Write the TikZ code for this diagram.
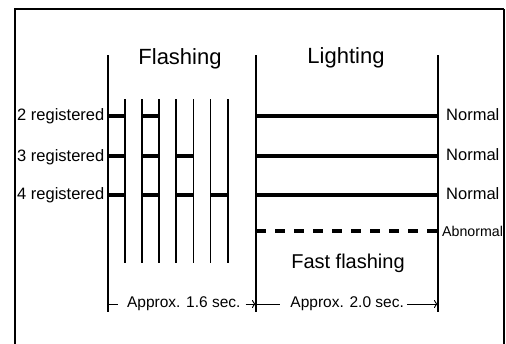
\documentclass[tikz,border=0pt]{standalone}
\usepackage{fontspec}
\setmainfont{Liberation Sans}
\usetikzlibrary{arrows.meta}
\begin{document}
\begin{tikzpicture}[x=1pt,y=-1pt,
  frame/.style={line width=2pt},
  axis/.style={line width=1.2pt},
  tick/.style={line width=1.2pt},
  bar/.style={line width=3.6pt},
  dashbar/.style={line width=3.6pt,dash pattern=on 10pt off 9pt},
  dim/.style={line width=0.9pt},
  dimarrow/.style={line width=0.9pt,-{To[length=4pt,width=8pt]}},
  lbl/.style={inner sep=0pt,font=\fontsize{16.5}{18}\selectfont},
  ttl/.style={inner sep=0pt,font=\fontsize{22}{24}\selectfont},
  sub/.style={inner sep=0pt,font=\fontsize{20}{22}\selectfont},
  small/.style={inner sep=0pt,font=\fontsize{14.2}{16}\selectfont},
  apx/.style={inner sep=0pt,font=\fontsize{15.5}{17}\selectfont}]
\useasboundingbox (0,0) rectangle (506,343);
% frame
\coordinate (fbl) at (15,344);
\coordinate (ftl) at (15,9);
\coordinate (ftr) at (504,9);
\coordinate (fbr) at (504,344);
\draw[frame] (fbl) -- (ftl) -- (ftr);
\draw[line width=1.4pt] (ftr) -- (fbr);
% main verticals
\foreach \n/\x in {a/108,b/256,c/438}{
  \coordinate (\n top) at (\x,55);
  \coordinate (\n bot) at (\x,312);
  \draw[axis] (\n top) -- (\n bot);
}
% small verticals
\foreach \i/\x in {1/125,2/142,3/159,4/176,5/193.7,6/210.7,7/228}{
  \coordinate (v\i t) at (\x,99);
  \coordinate (v\i b) at (\x,263);
  \draw[tick] (v\i t) -- (v\i b);
}
% row coordinates
\foreach \r/\y in {2/116,3/155.7,4/195}{
  \coordinate (r\r a) at (108,\y);
  \foreach \i/\x in {1/125,2/142,3/159,4/176,5/193.7,6/210.7,7/228}{
    \coordinate (r\r v\i) at (\x,\y);
  }
  \coordinate (r\r b) at (256,\y);
  \coordinate (r\r c) at (438,\y);
  \draw[bar] (r\r b) -- (r\r c);
}
% flashing bars
\draw[bar] (r2a) -- (r2v1) (r2v2) -- (r2v3);
\draw[bar] (r3a) -- (r3v1) (r3v2) -- (r3v3) (r3v4) -- (r3v5);
\draw[bar] (r4a) -- (r4v1) (r4v2) -- (r4v3) (r4v4) -- (r4v5) (r4v6) -- (r4v7);
% abnormal dashed
\coordinate (abl) at (256,231);
\coordinate (abr) at (438,231);
\draw[dashbar] (abl) -- (abr);
% titles
\node[ttl,anchor=base] (tflash) at (180,64) {Flashing};
\node[ttl,anchor=base] (tlight) at (346,63.3) {Lighting};
% left labels
\node[lbl,anchor=base east] (l2) at (104.5,120.7) {2 registered};
\node[lbl,anchor=base east] (l3) at (104.5,161.3) {3 registered};
\node[lbl,anchor=base east] (l4) at (104.5,199.7) {4 registered};
% right labels
\node[lbl,anchor=base west] (n2) at (446,120.3) {Normal};
\node[lbl,anchor=base west] (n3) at (446,160.7) {Normal};
\node[lbl,anchor=base west] (n4) at (446,199.3) {Normal};
\node[small,anchor=base west] (abn) at (442,236) {Abnormal};
\node[sub,anchor=base] (fast) at (348,268.7) {Fast flashing};
% dimensions
\node[apx,anchor=base] (d1) at (183.8,307.7) {Approx. 1.6 sec.};
\node[apx,anchor=base] (d2) at (347.2,307.7) {Approx. 2.0 sec.};
\coordinate (d1l) at (108,304);
\coordinate (d1r) at (256,304);
\coordinate (d2r) at (438,304);
\draw[dim] (d1l) -- ([xshift=-9pt]d1.west |- d1l);
\draw[dimarrow] ([xshift=5pt]d1.east |- d1l) -- (d1r);
\draw[dim] (d1r) -- ([xshift=-10pt]d2.west |- d1l);
\draw[dimarrow] ([xshift=3pt]d2.east |- d1l) -- (d2r);
\end{tikzpicture}
\end{document}
